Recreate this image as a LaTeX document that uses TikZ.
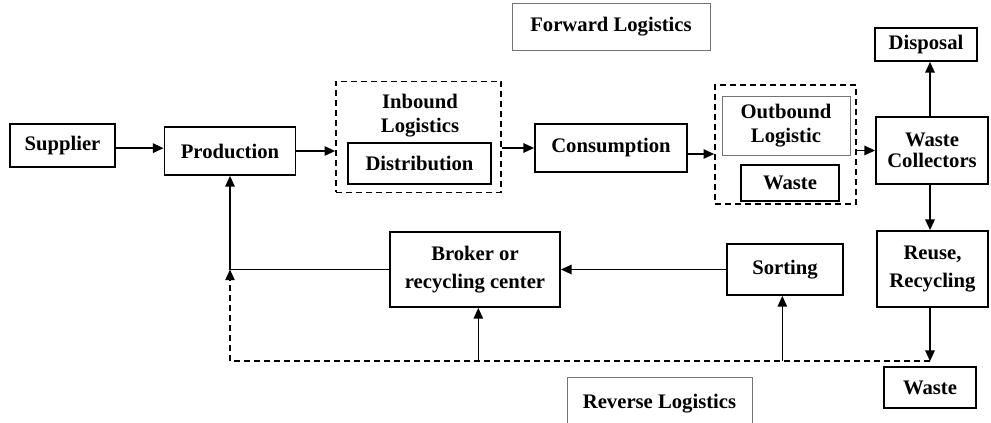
\documentclass[tikz,border=0pt]{standalone}
\usepackage{fontspec}
\setmainfont{Liberation Serif}
\usetikzlibrary{arrows.meta, positioning}

\begin{document}
\begin{tikzpicture}[x=0.75pt,y=-0.75pt,align=center,>={Triangle[length=8pt,width=7pt]}]
\tikzstyle{stage}=[draw=black,line width=1.3pt,inner sep=0pt,font=\bfseries\fontsize{15.5}{18}\selectfont]
\tikzstyle{group}=[draw=black,line width=1.2pt,dashed,dash pattern=on 4.5pt off 3pt,inner sep=0pt]
\tikzstyle{label}=[draw=black!55,line width=0.7pt,inner sep=0pt,font=\bfseries\fontsize{15.5}{18}\selectfont]
\tikzstyle{flow}=[->,line width=1.3pt]
\tikzstyle{back}=[->,line width=1.1pt,dashed,dash pattern=on 4.5pt off 3pt]

\useasboundingbox (0,0) rectangle (991,423);

% forward chain
\node[stage,minimum width=78.75pt,minimum height=32.25pt] (supplier) at (62.5,145.5) {Supplier};
\node[stage,minimum width=98.25pt,minimum height=36pt] (production) at (230,151) {Production};
\node[group,minimum width=123.75pt,minimum height=83.25pt] (inbound) at (418.5,137) {};
\node[font=\bfseries\fontsize{15.5}{18}\selectfont] (inboundtext) at (420,116) {Inbound\\Logistics};
\node[stage,minimum width=107.25pt,minimum height=30.75pt] (distribution) at (419.5,163.5) {Distribution};
\node[stage,minimum width=114pt,minimum height=36pt] (consumption) at (611,148) {Consumption};
\node[group,minimum width=105.75pt,minimum height=89.25pt] (outbound) at (785.5,144.5) {};
\node[label,minimum width=96pt,minimum height=44.25pt] (outboundlog) at (786,125.5) {Outbound\\Logistic};
\node[stage,minimum width=73.5pt,minimum height=27pt] (wastein) at (790,183) {Waste};
\node[stage,minimum width=84pt,minimum height=50.25pt,font=\bfseries\fontsize{15.5}{16}\selectfont] (collectors) at (932,150.5) {Waste\\Collectors};
\node[stage,minimum width=76.5pt,minimum height=24.75pt] (disposal) at (926,44.5) {Disposal};

% reverse chain
\node[stage,minimum width=83.25pt,minimum height=57pt,font=\bfseries\fontsize{15.5}{21}\selectfont] (reuse) at (932.5,269) {Reuse,\\Recycling};
\node[stage,minimum width=69pt,minimum height=30.75pt] (wasteout) at (930,387.5) {Waste};
\node[stage,minimum width=127.5pt,minimum height=56.25pt,font=\bfseries\fontsize{15.5}{21}\selectfont] (broker) at (475,269.5) {Broker or\\recycling center};
\node[stage,minimum width=87pt,minimum height=38.25pt] (sorting) at (785,269.5) {Sorting};

% headings
\node[label,minimum width=148.5pt,minimum height=35.25pt] (forward) at (611,26.5) {Forward Logistics};
\node[label,minimum width=138.75pt,minimum height=39.75pt] (reverse) at (659.5,403.5) {Reverse Logistics};

\coordinate (joint) at (broker.west -| production.south);
\coordinate[yshift=3.75pt] (wastetop) at (wasteout.north);
\coordinate[yshift=-4.5pt] (consout) at (consumption.east);

\draw[flow] ([yshift=-2pt]supplier.east) -- ([yshift=-2pt]supplier.east -| production.west);
\draw[flow] (production.east) -- (production.east -| inbound.west);
\draw[flow] (consumption.west -| inbound.east) -- (consumption.west);
\draw[flow] (consout) -- (consout -| outbound.west);
\draw[flow] (collectors.west -| outbound.east) -- (collectors.west);
\draw[flow] (collectors.north -| wasteout) -- (disposal.south -| wasteout);
\draw[flow] (collectors.south -| wasteout) -- (reuse.north -| wasteout);
\draw[flow] (reuse.south -| wasteout) -- (wastetop);

\draw[flow] (sorting.west) -- (sorting.west -| broker.east);
\draw[flow,line width=1.1pt] (broker.west) -- (joint) -- (production.south);
\draw[back] (wastetop) -| (joint);
\draw[flow,line width=1pt] ([xshift=2.5pt]broker.south |- wastetop) -- ([xshift=2.5pt]broker.south);
\draw[flow,line width=1pt] ([xshift=-2pt]sorting.south |- wastetop) -- ([xshift=-2pt]sorting.south);
\end{tikzpicture}
\end{document}
